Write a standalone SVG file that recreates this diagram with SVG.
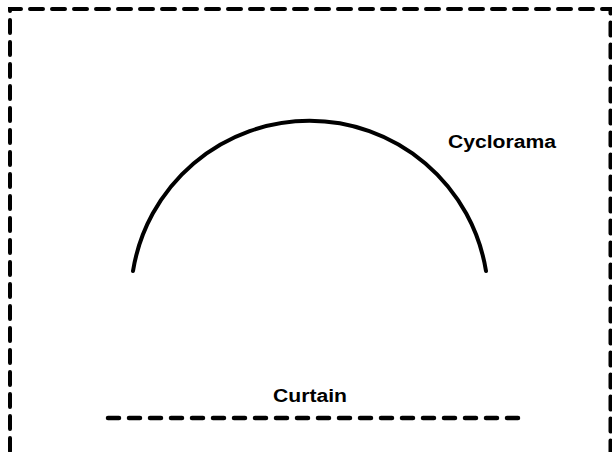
<svg xmlns="http://www.w3.org/2000/svg" width="612" height="452" viewBox="0 0 612 452">
<style>
.border{fill:none;stroke:#000;stroke-width:4;stroke-dasharray:13 9;stroke-linecap:round}
.arc{fill:none;stroke:#000;stroke-width:4;stroke-linecap:round}
.curtain{fill:none;stroke:#000;stroke-width:4.5;stroke-dasharray:11 10;stroke-linecap:round}
.lbl{font-family:"Liberation Sans",Arial,sans-serif;font-weight:bold;font-size:18px;fill:#000}
</style>
<rect width="612" height="452" fill="#fff"/>
<g id="frame">
<path class="border" d="M10 473 V9 H610.5 V473"/>
</g>
<g id="cyclorama">
<path class="arc" d="M133 271 A178.8 178.8 0 0 1 486 271"/>
<text class="lbl" x="448" y="148" textLength="108" lengthAdjust="spacingAndGlyphs">Cyclorama</text>
</g>
<g id="curtain">
<line class="curtain" x1="108" y1="418" x2="520" y2="418"/>
<text class="lbl" x="273" y="402" textLength="74" lengthAdjust="spacingAndGlyphs">Curtain</text>
</g>
</svg>
